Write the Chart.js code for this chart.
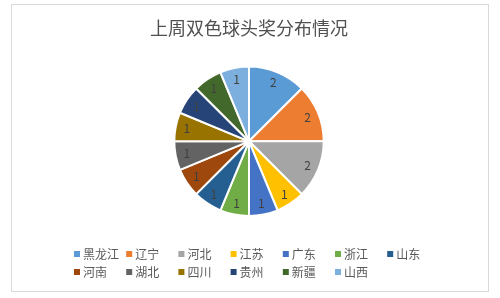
<!DOCTYPE html>
<html lang="zh">
<head>
    <meta charset="UTF-8">
    <title>上周双色球头奖分布情况</title>
    <script src="https://cdn.jsdelivr.net/npm/chart.js"></script>
    <style>
        html, body {
            margin: 0;
            background-color: #ffffff;
        }
        #chart-box {
            position: absolute;
            left: 11px;
            top: 4px;
            width: 476px;
            height: 286px;
            border: 1px solid #d9d9d9;
        }
    </style>
</head>
<body>

<div id="chart-box">
    <canvas id="prizePie" width="476" height="286"></canvas>
</div>

<script>
const provinces = ['黑龙江', '辽宁', '河北', '江苏', '广东', '浙江', '山东', '河南', '湖北', '四川', '贵州', '新疆', '山西'];
const winners = [2, 2, 2, 1, 1, 1, 1, 1, 1, 1, 1, 1, 1];
const sliceColors = ['#5B9BD5', '#ED7D31', '#A5A5A5', '#FFC000', '#4472C4', '#70AD47', '#255E91',
                     '#9E480E', '#636363', '#997300', '#264478', '#43682B', '#7CAFDD'];

const cjkFont = '"Noto Sans CJK SC", "Microsoft YaHei", sans-serif';

// numbers inside each slice, near the outer edge
const sliceLabels = {
    id: 'sliceLabels',
    afterDatasetsDraw(chart) {
        const ctx = chart.ctx;
        const meta = chart.getDatasetMeta(0);
        ctx.save();
        ctx.font = '12px ' + cjkFont;
        ctx.fillStyle = '#404040';
        ctx.textAlign = 'center';
        ctx.textBaseline = 'middle';
        meta.data.forEach((arc, i) => {
            const mid = (arc.startAngle + arc.endAngle) / 2;
            const r = arc.outerRadius * 0.85;
            ctx.fillText(String(chart.data.datasets[0].data[i]), arc.x + Math.cos(mid) * r, arc.y + Math.sin(mid) * r);
        });
        ctx.restore();
    }
};

// Excel-like grid legend: 7 columns, 2 rows
const gridLegend = {
    id: 'gridLegend',
    afterDraw(chart) {
        const ctx = chart.ctx;
        const labels = chart.data.labels;
        const colors = chart.data.datasets[0].backgroundColor;
        ctx.save();
        ctx.font = '12px ' + cjkFont;
        ctx.textBaseline = 'middle';
        ctx.textAlign = 'left';
        labels.forEach((name, i) => {
            const col = i % 7;
            const row = Math.floor(i / 7);
            const x = 62 + col * 52.2;
            const y = 249 + row * 18;
            ctx.fillStyle = colors[i];
            ctx.fillRect(x, y - 3, 6, 6);
            ctx.fillStyle = '#595959';
            ctx.fillText(name, x + 9, y + 0.5);
        });
        ctx.restore();
    }
};

new Chart(document.getElementById('prizePie'), {
    type: 'pie',
    data: {
        labels: provinces,
        datasets: [{
            data: winners,
            backgroundColor: sliceColors,
            borderColor: '#ffffff',
            borderWidth: 2
        }]
    },
    options: {
        responsive: false,
        animation: false,
        layout: {
            padding: { bottom: 74, right: 2 }
        },
        plugins: {
            title: {
                display: true,
                text: '上周双色球头奖分布情况',
                color: '#505050',
                font: { size: 18, family: cjkFont, weight: 'normal' },
                padding: { top: 12, bottom: 27 }
            },
            legend: { display: false },
            tooltip: { enabled: false }
        }
    },
    plugins: [sliceLabels, gridLegend]
});
</script>

</body>
</html>
